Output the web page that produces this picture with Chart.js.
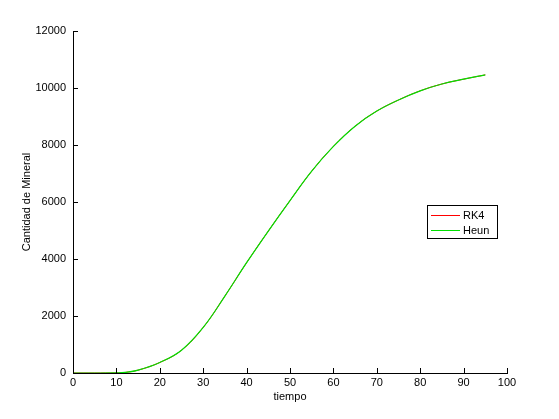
<!DOCTYPE html>
<html>
<head>
<meta charset="utf-8">
<script src="https://cdn.jsdelivr.net/npm/chart.js@4"></script>
<style>
    body { margin: 0; background: #fff; }
    #chart { display: block; }
</style>
</head>
<body>
<canvas id="chart" width="559" height="419"></canvas>
<script>
// Data
const tiempo = [0, 5, 10, 12, 15, 20, 25, 30, 35, 40, 45, 50, 55, 60, 65, 70, 75, 80, 85, 90, 95];
const rk4    = [0, 0, 5, 20, 100, 370, 800, 1600, 2700, 3870, 4980, 6050, 7080, 7950, 8660, 9190, 9580, 9900, 10140, 10310, 10460];
const heun   = [0, 0, 5, 20, 100, 370, 800, 1600, 2700, 3870, 4980, 6050, 7080, 7950, 8660, 9190, 9580, 9900, 10140, 10310, 10460];
const xTicks = [0, 10, 20, 30, 40, 50, 60, 70, 80, 90, 100];
const yTicks = [0, 2000, 4000, 6000, 8000, 10000, 12000];

const FONT = 'Liberation Sans, Arial, sans-serif';

function toPoints(xs, ys) {
    return xs.map((x, i) => ({ x: x, y: ys[i] }));
}

// Ticks pointing into the plot, MATLAB style
const innerTicks = {
    id: 'innerTicks',
    afterDraw(chart) {
        const ctx = chart.ctx;
        const area = chart.chartArea;
        const xs = chart.scales.x;
        const ys = chart.scales.y;
        ctx.save();
        ctx.strokeStyle = '#000';
        ctx.lineWidth = 1;
        ctx.beginPath();
        xTicks.forEach(v => {
            const px = Math.round(xs.getPixelForValue(v)) + 0.5;
            ctx.moveTo(px, area.bottom);
            ctx.lineTo(px, area.bottom - 5);
        });
        yTicks.forEach(v => {
            const py = Math.round(ys.getPixelForValue(v)) + 0.5;
            ctx.moveTo(area.left, py);
            ctx.lineTo(area.left + 5, py);
        });
        ctx.stroke();
        ctx.restore();
    }
};

// Boxed legend inside the plot
const boxLegend = {
    id: 'boxLegend',
    afterDraw(chart) {
        const ctx = chart.ctx;
        const x0 = 427, y0 = 205, w = 70, h = 33;
        ctx.save();
        ctx.fillStyle = '#fff';
        ctx.fillRect(x0, y0, w, h);
        ctx.strokeStyle = '#000';
        ctx.lineWidth = 1;
        ctx.strokeRect(x0 + 0.5, y0 + 0.5, w, h);
        ctx.font = '11px ' + FONT;
        ctx.textBaseline = 'middle';
        chart.data.datasets.forEach((ds, i) => {
            const y = y0 + 10 + i * 15 + 0.5;
            ctx.strokeStyle = ds.borderColor;
            ctx.lineWidth = 1;
            ctx.beginPath();
            ctx.moveTo(x0 + 4, y);
            ctx.lineTo(x0 + 33, y);
            ctx.stroke();
            ctx.fillStyle = '#000';
            ctx.fillText(ds.label, x0 + 36, y);
        });
        ctx.restore();
    }
};

new Chart(document.getElementById('chart'), {
    type: 'line',
    data: {
        datasets: [{
            label: 'RK4',
            data: toPoints(tiempo, rk4),
            borderColor: '#ff0000',
            borderWidth: 1,
            pointRadius: 0,
            tension: 0.4,
            order: 2
        }, {
            label: 'Heun',
            data: toPoints(tiempo, heun),
            borderColor: '#00e000',
            borderWidth: 1.2,
            pointRadius: 0,
            tension: 0.4,
            order: 1
        }]
    },
    options: {
        responsive: false,
        animation: false,
        layout: { padding: { left: 0, top: 31, right: 52, bottom: 0 } },
        plugins: {
            legend: { display: false },
            tooltip: { enabled: false }
        },
        scales: {
            x: {
                type: 'linear',
                min: 0,
                max: 100,
                afterFit: s => { s.height = 46; },
                afterBuildTicks: s => { s.ticks = xTicks.map(v => ({ value: v })); },
                grid: { display: false, drawTicks: false },
                border: { display: true, color: '#000', width: 1 },
                ticks: {
                    color: '#000',
                    padding: 3,
                    maxRotation: 0,
                    font: { family: FONT, size: 11 }
                },
                title: {
                    display: true,
                    text: 'tiempo',
                    color: '#000',
                    padding: { top: 0, bottom: 15 },
                    font: { family: FONT, size: 11 }
                }
            },
            y: {
                min: 0,
                max: 12000,
                afterFit: s => { s.width = 73; },
                afterBuildTicks: s => { s.ticks = yTicks.map(v => ({ value: v })); },
                grid: { display: false, drawTicks: false },
                border: { display: true, color: '#000', width: 1 },
                ticks: {
                    color: '#000',
                    padding: 7,
                    font: { family: FONT, size: 11 },
                    callback: v => String(v)
                },
                title: {
                    display: true,
                    text: 'Cantidad de Mineral',
                    color: '#000',
                    padding: { top: 20, bottom: 0 },
                    font: { family: FONT, size: 11 }
                }
            }
        }
    },
    plugins: [innerTicks, boxLegend]
});
</script>
</body>
</html>
